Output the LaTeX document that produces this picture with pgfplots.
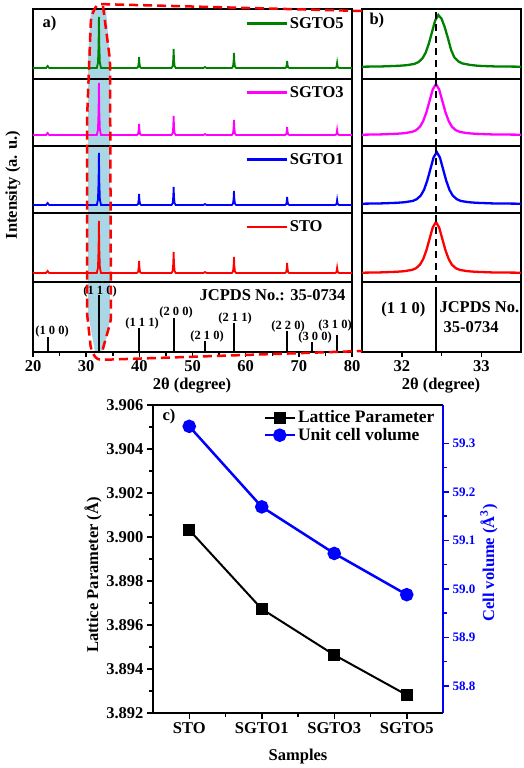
\documentclass[border=0pt]{standalone}
\usepackage{pgfplots}
\pgfplotsset{compat=1.18}
\usepackage{fontspec}
\setmainfont{Liberation Serif}
\definecolor{mygreen}{RGB}{0,128,0}
\definecolor{mymag}{RGB}{255,0,255}
\definecolor{band}{RGB}{170,215,230}
\newcommand{\myF}{\fontsize{16.5}{19}\selectfont\bfseries}
\newcommand{\myL}{\fontsize{17.5}{20}\selectfont\bfseries}
\newcommand{\myS}{\fontsize{12.5}{14}\selectfont\bfseries}
\newcommand{\myR}{\fontsize{13}{15}\selectfont\bfseries}
\pgfplotsset{
 base/.style={scale only axis, axis line style={line width=2pt}, every tick/.style={black, line width=1.5pt},
   /pgf/number format/assume math mode=true, tick label style={font=\myF}},
 pa/.style={base, width=319pt, xmin=20, xmax=80, ymin=0, xtick=\empty, ytick=\empty, anchor=north west},
 pb/.style={base, width=159pt, xmin=31.5, xmax=33.5, ymin=0, xtick=\empty, ytick=\empty, anchor=north west},
 leg/.style={legend style={draw=none, fill=none, at={(0.665,0.795)}, anchor=west, font=\myF, inner sep=0pt},
   legend cell align=left,
   legend image code/.code={\draw[##1, line width=2.5pt] (0pt,0pt) -- (40pt,0pt);}},
 xrd/.style={line width=1.8pt},
 xrdb/.style={line width=2.3pt},
}
\begin{document}
\begin{tikzpicture}
\path[use as bounding box] (0pt,0pt) rectangle (524pt,-768pt);
% highlight band
\fill[band] (91pt,-9pt) -- (106pt,-9pt) -- (110pt,-60pt) -- (110pt,-320pt) -- (104pt,-350pt) -- (95pt,-352pt) -- (88pt,-313pt) -- (88pt,-60pt) -- cycle;

% ---------------- panel a ----------------
\begin{axis}[pa, height=70pt, ymax=70, at={(33pt,-9pt)}, leg]
\addplot[mygreen, xrd] coordinates {(20,11)(22.45,11)(22.75,13)(23.05,11)
(32.0,11)(32.22,16.1)(32.33,34)(32.4,62)(32.47,34)(32.58,16.1)(32.8,11)
(39.55,11)(39.77,12.1)(39.88,16)(39.95,22)(40.02,16)(40.13,12.1)(40.35,11)
(46.05,11)(46.27,12.9)(46.38,19.6)(46.45,30)(46.52,19.6)(46.63,12.9)(46.85,11)
(52.05,11)(52.35,12)(52.65,11)
(57.4,11)(57.62,12.5)(57.73,17.8)(57.8,26)(57.87,17.8)(57.98,12.5)(58.2,11)
(67.4,11)(67.62,11.7)(67.73,14.2)(67.8,18)(67.87,14.2)(67.98,11.7)(68.2,11)
(76.8,11)(77.02,11.5)(77.13,13.3)(77.2,16)(77.27,13.3)(77.38,11.5)(77.6,11)(80,11)};
\addlegendentry{SGTO5}
\end{axis}
\begin{axis}[pa, height=67pt, ymax=67, at={(33pt,-79pt)}, leg]
\addplot[mymag, xrd] coordinates {(20,11)(22.45,11)(22.75,13)(23.05,11)
(32.0,11)(32.22,16.2)(32.33,34.4)(32.4,63)(32.47,34.4)(32.58,16.2)(32.8,11)
(39.55,11)(39.77,12.1)(39.88,16)(39.95,22)(40.02,16)(40.13,12.1)(40.35,11)
(46.05,11)(46.27,12.9)(46.38,19.6)(46.45,30)(46.52,19.6)(46.63,12.9)(46.85,11)
(52.05,11)(52.35,12)(52.65,11)
(57.4,11)(57.62,12.5)(57.73,17.8)(57.8,26)(57.87,17.8)(57.98,12.5)(58.2,11)
(67.4,11)(67.62,11.8)(67.73,14.6)(67.8,19)(67.87,14.6)(67.98,11.8)(68.2,11)
(76.8,11)(77.02,11.5)(77.13,13.3)(77.2,16)(77.27,13.3)(77.38,11.5)(77.6,11)(80,11)};
\addlegendentry{SGTO3}
\end{axis}
\begin{axis}[pa, height=67pt, ymax=67, at={(33pt,-146pt)}, leg]
\addplot[blue, xrd] coordinates {(20,8)(22.45,8)(22.75,10)(23.05,8)
(32.0,8)(32.22,13.2)(32.33,31.4)(32.4,60)(32.47,31.4)(32.58,13.2)(32.8,8)
(39.55,8)(39.77,9.1)(39.88,13)(39.95,19)(40.02,13)(40.13,9.1)(40.35,8)
(46.05,8)(46.27,9.8)(46.38,16.1)(46.45,26)(46.52,16.1)(46.63,9.8)(46.85,8)
(52.05,8)(52.35,9)(52.65,8)
(57.4,8)(57.62,9.4)(57.73,14.3)(57.8,22)(57.87,14.3)(57.98,9.4)(58.2,8)
(67.4,8)(67.62,8.8)(67.73,11.6)(67.8,16)(67.87,11.6)(67.98,8.8)(68.2,8)
(76.8,8)(77.02,8.5)(77.13,10.3)(77.2,13)(77.27,10.3)(77.38,8.5)(77.6,8)(80,8)};
\addlegendentry{SGTO1}
\end{axis}
\begin{axis}[pa, height=69pt, ymax=69, at={(33pt,-213pt)}, leg]
\addplot[red, xrd] coordinates {(20,9)(22.45,9)(22.75,11)(23.05,9)
(32.0,9)(32.22,14.2)(32.33,32.4)(32.4,61)(32.47,32.4)(32.58,14.2)(32.8,9)
(39.55,9)(39.77,10.2)(39.88,14.4)(39.95,21)(40.02,14.4)(40.13,10.2)(40.35,9)
(46.05,9)(46.27,11.1)(46.38,18.5)(46.45,30)(46.52,18.5)(46.63,11.1)(46.85,9)
(52.05,9)(52.35,10)(52.65,9)
(57.4,9)(57.62,10.6)(57.73,16.2)(57.8,25)(57.87,16.2)(57.98,10.6)(58.2,9)
(67.4,9)(67.62,10)(67.73,13.5)(67.8,19)(67.87,13.5)(67.98,10)(68.2,9)
(76.8,9)(77.02,9.5)(77.13,11.3)(77.2,14)(77.27,11.3)(77.38,9.5)(77.6,9)(80,9)};
\addlegendentry{STO}
\end{axis}
\begin{axis}[pa, height=70pt, ymax=70, at={(33pt,-282pt)},
  xtick={20,30,40,50,60,70,80}, minor xtick={25,35,45,55,65,75}, xtick pos=bottom,
  tick align=outside, major tick length=5pt, minor tick length=4pt]
\addplot[ycomb, black, line width=2pt] coordinates {(22.75,15)(32.4,57)(39.95,24)(46.45,34)(52.35,11)(57.8,29)(67.8,21)(72.5,10)(77.2,17)};
\end{axis}

% ---------------- panel b ----------------
\begin{axis}[pb, height=70pt, ymax=70, at={(362pt,-9pt)}]
\addplot[mygreen, xrdb] coordinates {(31.5,12.3)(31.76,12.6)(31.96,13.2)(32.06,13.8)(32.16,15.1)(32.21,16.9)(32.26,20.6)(32.30,26.2)(32.34,35.2)(32.38,46.8)(32.42,58.5)(32.46,64)(32.50,60.4)(32.54,52)(32.58,41.1)(32.62,29.2)(32.66,21.9)(32.71,17.7)(32.76,15.6)(32.86,14.1)(32.96,13.2)(33.16,12.6)(33.5,12.3)};
\addplot[black, line width=2pt, dash pattern=on 7pt off 5pt] coordinates {(32.43,0)(32.43,70)};
\end{axis}
\begin{axis}[pb, height=67pt, ymax=67, at={(362pt,-79pt)}]
\addplot[mymag, xrdb] coordinates {(31.5,11.3)(31.73,11.6)(31.93,12.2)(32.03,12.8)(32.13,14.1)(32.18,15.8)(32.23,19.4)(32.27,25)(32.31,33.7)(32.35,45.2)(32.39,56.6)(32.43,62)(32.47,56.6)(32.51,45.2)(32.55,33.7)(32.59,25)(32.63,19.4)(32.68,15.8)(32.73,14.1)(32.83,12.8)(32.93,12.2)(33.13,11.6)(33.5,11.3)};
\addplot[black, line width=2pt, dash pattern=on 7pt off 5pt] coordinates {(32.43,0)(32.43,67)};
\end{axis}
\begin{axis}[pb, height=67pt, ymax=67, at={(362pt,-146pt)}]
\addplot[blue, xrdb] coordinates {(31.5,9.3)(31.74,9.6)(31.94,10.2)(32.04,10.8)(32.14,12.1)(32.19,13.9)(32.24,17.6)(32.28,23.2)(32.32,32.2)(32.36,43.8)(32.40,55.5)(32.44,61)(32.48,55.5)(32.52,43.8)(32.56,32.2)(32.60,23.2)(32.64,17.6)(32.69,13.9)(32.74,12.1)(32.84,10.8)(32.94,10.2)(33.14,9.6)(33.5,9.3)};
\addplot[black, line width=2pt, dash pattern=on 7pt off 5pt] coordinates {(32.43,0)(32.43,67)};
\end{axis}
\begin{axis}[pb, height=69pt, ymax=69, at={(362pt,-213pt)}]
\addplot[red, xrdb] coordinates {(31.5,9.3)(31.73,9.6)(31.93,10.2)(32.03,10.8)(32.13,12.1)(32.18,13.8)(32.23,17.4)(32.27,23)(32.31,31.7)(32.35,43.2)(32.39,54.6)(32.43,60)(32.47,54.6)(32.51,43.2)(32.55,31.7)(32.59,23)(32.63,17.4)(32.68,13.8)(32.73,12.1)(32.83,10.8)(32.93,10.2)(33.13,9.6)(33.5,9.3)};
\addplot[black, line width=2pt, dash pattern=on 7pt off 5pt] coordinates {(32.43,0)(32.43,69)};
\end{axis}
\begin{axis}[pb, height=70pt, ymax=70, at={(362pt,-282pt)},
  xtick={32,33}, minor xtick={32.5}, xtick pos=bottom,
  tick align=outside, major tick length=5pt, minor tick length=4pt]
\addplot[black, line width=2pt] coordinates {(32.43,0)(32.43,65)};
\end{axis}

% ---------------- panel c ----------------
\begin{axis}[base, at={(153pt,-405pt)}, anchor=north west, width=290pt, height=308pt,
  xmin=-0.5, xmax=3.5, ymin=3.892, ymax=3.906,
  xtick={0,1,2,3}, xticklabels={STO,SGTO1,SGTO3,SGTO5}, minor xtick={0.5,1.5,2.5},
  ytick={3.892,3.894,3.896,3.898,3.900,3.902,3.904,3.906}, minor y tick num=1,
  axis y line*=left, xtick pos=bottom, tick align=outside,
  major tick length=6pt, minor tick length=4pt,
  y tick label style={/pgf/number format/.cd, fixed, fixed zerofill, precision=3}]
\addplot[black, line width=2pt, mark=square*, mark size=5pt] coordinates {(0,3.90032)(1,3.89673)(2,3.89464)(3,3.89282)};
\end{axis}
\begin{axis}[base, at={(153pt,-405pt)}, anchor=north west, width=290pt, height=308pt,
  xmin=-0.5, xmax=3.5, ymin=58.744, ymax=59.379,
  axis y line*=right, axis x line=none, y axis line style={blue},
  ytick={58.8,58.9,59.0,59.1,59.2,59.3}, minor y tick num=1,
  every tick/.style={blue, line width=1.5pt}, tick align=outside,
  major tick length=6pt, minor tick length=4pt,
  y tick label style={blue, font=\myR, /pgf/number format/.cd, fixed, fixed zerofill, precision=1},
  legend style={draw=none, fill=none, at={(0.37,0.995)}, anchor=north west, font=\myL, row sep=0pt},
  legend cell align=left,
  legend image code/.code={\draw[mark repeat=2, mark phase=2, #1] plot coordinates {(0pt,0pt)(15pt,0pt)(30pt,0pt)};}]
\addlegendimage{black, line width=2pt, mark=square*, mark size=5pt}
\addlegendentry{Lattice Parameter}
\addplot[blue, line width=2.5pt, mark=*, mark size=5.5pt] coordinates {(0,59.335)(1,59.169)(2,59.073)(3,58.988)};
\addlegendentry{Unit cell volume}
\end{axis}

% ---------------- texts ----------------
\node[font=\myF, anchor=west] at (39pt,-24pt) {a)};
\node[font=\myF, anchor=west] at (366pt,-21pt) {b)};
\node[font=\myF, anchor=west] at (159pt,-417pt) {c)};
\node[font=\myF, rotate=90] at (13pt,-185pt) {Intensity (a. u.)};
\node[font=\myF] at (192pt,-386pt) {2θ (degree)};
\node[font=\myF] at (441pt,-386pt) {2θ (degree)};
\node[font=\myF, rotate=90] at (93pt,-575pt) {Lattice Parameter (Å)};
\node[font=\myF, rotate=90, blue] at (489pt,-563pt) {Cell volume (Å\textsuperscript{3})};
\node[font=\myF] at (298pt,-757pt) {Samples};
% hkl labels
\node[font=\myS] at (52pt,-331pt) {(1 0 0)};
\node[font=\myS] at (100pt,-291pt) {(1 1 0)};
\node[font=\myS] at (142pt,-323pt) {(1 1 1)};
\node[font=\myS] at (176pt,-312pt) {(2 0 0)};
\node[font=\myS] at (207pt,-336pt) {(2 1 0)};
\node[font=\myS] at (235pt,-318pt) {(2 1 1)};
\node[font=\myS] at (288pt,-326pt) {(2 2 0)};
\node[font=\myS] at (315pt,-337pt) {(3 0 0)};
\node[font=\myS] at (335pt,-325pt) {(3 1 0)};
\node[font=\myF, anchor=east] at (349pt,-295pt) {JCPDS No.: 35-0734};
\node[font=\myF, anchor=east] at (429pt,-310pt) {(1 1 0)};
\node[font=\myF, anchor=west] at (436pt,-307pt) {JCPDS No.};
\node[font=\myF, anchor=west] at (440pt,-327pt) {35-0734};
% zoom outline
\draw[red, line width=2.5pt, dash pattern=on 9pt off 5pt, rounded corners=4pt] (362pt,-11pt) -- (97pt,-4pt) -- (91pt,-17pt) -- (87pt,-120pt) -- (87pt,-313pt) -- (91pt,-350pt) -- (97pt,-360pt) -- (362pt,-351pt);
\draw[red, line width=2.5pt, dash pattern=on 9pt off 5pt, rounded corners=4pt] (103pt,-6pt) -- (110pt,-60pt) -- (111pt,-320pt) -- (102pt,-352pt);
\end{tikzpicture}
\end{document}
